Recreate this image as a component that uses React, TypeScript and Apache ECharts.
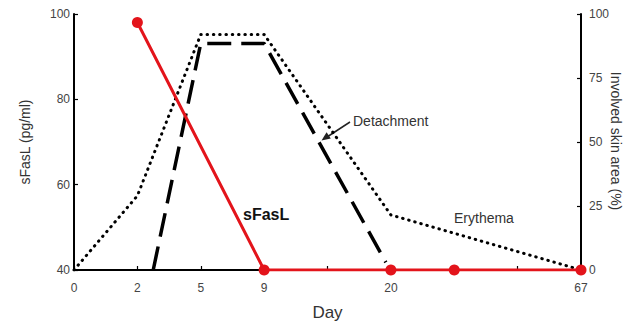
import React, { useEffect, useRef } from "react";
import * as echarts from "echarts";

// x positions are evenly spaced slots; labels show the day
const daySlots = [0, 1, 2, 3, 4, 5, 6, 7, 8];
const dayLabels = ["0", "2", "5", "9", "", "20", "", "", "67"];

// sFasL (pg/ml), left axis
const sFasL: [number, number][] = [
  [1, 98],
  [3, 40],
  [5, 40],
  [6, 40],
  [8, 40],
];

// Erythema involved skin area (%), right axis
const erythema: [number, number][] = [
  [0, 0],
  [1, 29],
  [2, 92],
  [3, 92],
  [5, 21.5],
  [8, 0],
];

// Detachment involved skin area (%), right axis
const detachment: [number, number][] = [
  [1.25, 0],
  [2, 88.5],
  [3, 88.5],
  [4.92, 3],
];

const leftTicks = [40, 60, 80, 100];
const rightTicks = [0, 25, 50, 75, 100];

const FONT = "'Liberation Sans', Arial, Helvetica, sans-serif";
const RED = "#e3141b";

export default function App() {
  const ref = useRef<HTMLDivElement>(null);

  useEffect(() => {
    if (!ref.current) return;
    const chart = echarts.init(ref.current, undefined, { renderer: "svg" });
    const axisLine = { show: true, lineStyle: { color: "#000", width: 2 } };
    const axisTick = { show: true, inside: true, length: 4, lineStyle: { color: "#000", width: 1.2 } };
    const axisLabel = { color: "#444", fontSize: 12, fontFamily: FONT };

    chart.setOption({
      animation: false,
      textStyle: { fontFamily: FONT },
      grid: {
        left: 74,
        right: 45,
        top: 14,
        bottom: 56,
        containLabel: false,
        outerBoundsMode: "none",
      },
      xAxis: {
        type: "value",
        min: daySlots[0],
        max: daySlots[daySlots.length - 1],
        interval: 1,
        axisLine,
        axisTick,
        splitLine: { show: false },
        axisLabel: {
          ...axisLabel,
          margin: 12,
          formatter: (v: number) => dayLabels[Math.round(v)] ?? "",
        },
        name: "Day",
        nameLocation: "middle",
        nameGap: 34,
        nameTextStyle: { fontSize: 17, color: "#333", fontFamily: FONT },
      },
      yAxis: [
        {
          type: "value",
          position: "left",
          min: leftTicks[0],
          max: leftTicks[leftTicks.length - 1],
          interval: 20,
          axisLine,
          axisTick,
          splitLine: { show: false },
          axisLabel: { ...axisLabel, margin: 4 },
          name: "sFasL (pg/ml)",
          nameLocation: "middle",
          nameRotate: 90,
          nameGap: 42,
          nameTextStyle: { fontSize: 14, color: "#333", fontFamily: FONT },
        },
        {
          type: "value",
          position: "right",
          min: rightTicks[0],
          max: rightTicks[rightTicks.length - 1],
          interval: 25,
          axisLine,
          axisTick,
          splitLine: { show: false },
          axisLabel: { ...axisLabel, margin: 8 },
        },
      ],
      series: [
        {
          name: "Erythema",
          type: "line",
          yAxisIndex: 1,
          data: erythema,
          symbol: "none",
          z: 2,
          lineStyle: { color: "#000", width: 3, type: [0.5, 5.8], cap: "round", join: "round" },
        },
        {
          name: "Detachment",
          type: "line",
          yAxisIndex: 1,
          data: detachment,
          symbol: "none",
          z: 3,
          lineStyle: { color: "#000", width: 3.5, type: [24, 10], cap: "butt" },
        },
        {
          name: "sFasL",
          type: "line",
          yAxisIndex: 0,
          data: sFasL,
          symbol: "circle",
          symbolSize: 11,
          z: 5,
          itemStyle: { color: RED },
          lineStyle: { color: RED, width: 3 },
        },
      ],
      graphic: [
        {
          type: "text",
          x: 616,
          y: 141,
          rotation: -Math.PI / 2,
          style: {
            text: "Involved skin area (%)",
            font: `14px ${FONT}`,
            fill: "#333",
            textAlign: "center",
            textVerticalAlign: "middle",
          },
        },
        {
          type: "text",
          left: 243,
          top: 206,
          style: { text: "sFasL", font: `bold 16px ${FONT}`, fill: "#111" },
        },
        {
          type: "text",
          left: 353,
          top: 114,
          style: { text: "Detachment", font: `14px ${FONT}`, fill: "#333" },
        },
        {
          type: "text",
          left: 454,
          top: 211,
          style: { text: "Erythema", font: `14px ${FONT}`, fill: "#333" },
        },
        {
          type: "line",
          shape: { x1: 350, y1: 122, x2: 327, y2: 137 },
          style: { stroke: "#222", lineWidth: 1.5 },
        },
        {
          type: "polygon",
          shape: { points: [[321.5, 140.5], [330.8, 138.4], [326.6, 132.2]] },
          style: { fill: "#222" },
        },
      ],
    });
    return () => chart.dispose();
  }, []);

  return (
    <div
      ref={ref}
      style={{ position: "fixed", left: 0, top: 0, width: 626, height: 326, background: "#fff" }}
    />
  );
}
